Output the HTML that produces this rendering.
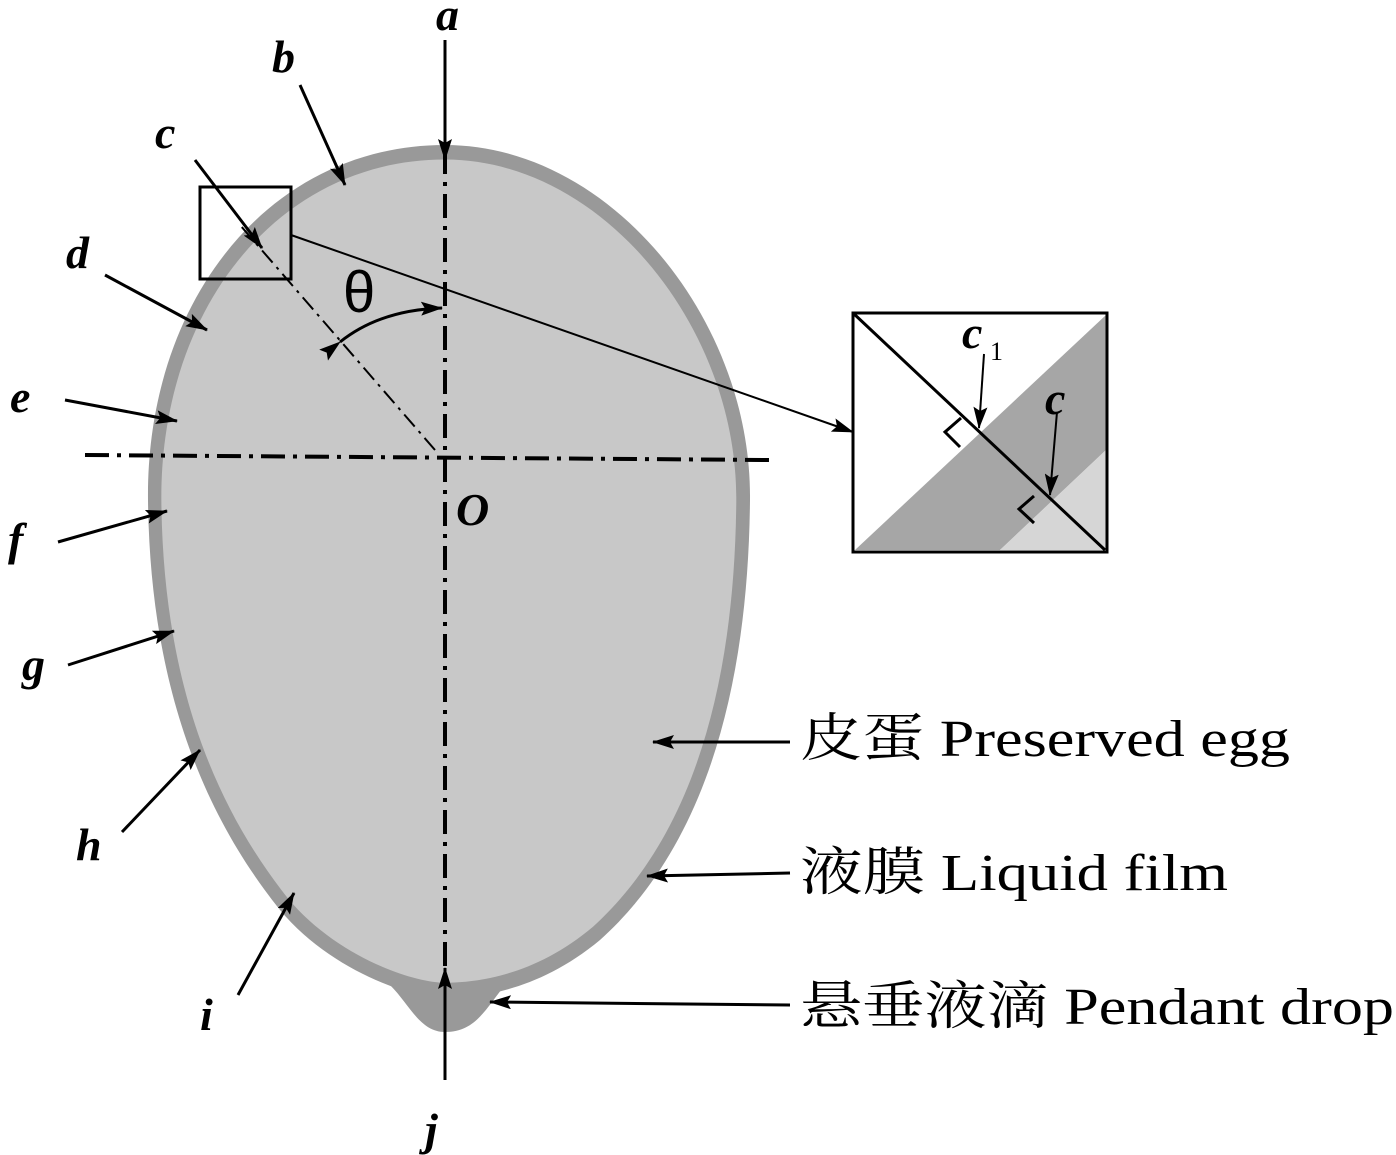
<!DOCTYPE html>
<html><head><style>body{margin:0;background:#fff}svg{display:block}</style></head><body>
<svg width="1396" height="1155" viewBox="0 0 1396 1155" xmlns="http://www.w3.org/2000/svg">
<defs>
<marker id="ab" markerWidth="22" markerHeight="14" refX="21" refY="7" orient="auto" markerUnits="userSpaceOnUse"><path d="M0,0L22,7L0,14L4,7Z" fill="#000"/></marker>
<path id="egg" d="M445,145 C610,145 752,320 750,500 C748,700 700,850 600,940 C540,990 480,998 445,998 C410,998 330,970 280,910 C200,810 150,680 148,500 C146,300 270,145 445,145 Z"/>
</defs>
<use href="#egg" fill="#999"/>
<path d="M390,985 C410,1005 420,1032 445,1032 C475,1032 485,1010 505,985 Z" fill="#999"/>
<use href="#egg" fill="#c8c8c8" transform="translate(445,560) scale(0.955,0.965) translate(-445,-560)"/>
<g stroke="#000" stroke-width="4" fill="none" stroke-dasharray="24,8,4,8">
<line x1="85" y1="455" x2="770" y2="460"/>
<line x1="445" y1="150" x2="445" y2="975"/>
</g>
<line x1="435" y1="450" x2="240" y2="225" stroke="#000" stroke-width="2" stroke-dasharray="16,6,3,6"/>
<rect x="200" y="187" width="91" height="92" fill="none" stroke="#000" stroke-width="3"/>
<line x1="291" y1="235" x2="853" y2="432" stroke="#000" stroke-width="2" marker-end="url(#ab)"/>
<path d="M340,342 Q380,310 442,308" stroke="#000" stroke-width="3" fill="none" marker-start="url(#ab)" marker-end="url(#ab)"/>
<g stroke="#000" stroke-width="3" fill="none" marker-end="url(#ab)">
<line x1="445" y1="40" x2="445" y2="160"/>
<line x1="300" y1="85" x2="345" y2="185"/>
<line x1="195" y1="160" x2="262" y2="248"/>
<line x1="105" y1="275" x2="207" y2="330"/>
<line x1="65" y1="400" x2="177" y2="421"/>
<line x1="58" y1="542" x2="167" y2="511"/>
<line x1="68" y1="665" x2="174" y2="631"/>
<line x1="122" y1="832" x2="200" y2="750"/>
<line x1="238" y1="995" x2="294" y2="893"/>
<line x1="445" y1="1080" x2="445" y2="968"/>
<line x1="790" y1="742" x2="653" y2="742"/>
<line x1="790" y1="873" x2="647" y2="876"/>
<line x1="790" y1="1005" x2="490" y2="1002"/>
</g>
<polygon points="855,550 1106,315 1106,450 1000,550" fill="#a6a6a6"/>
<polygon points="1000,550 1106,450 1106,550" fill="#d6d6d6"/>
<rect x="853" y="313" width="254" height="239" fill="none" stroke="#000" stroke-width="3"/>
<line x1="853" y1="313" x2="1105" y2="550" stroke="#000" stroke-width="3"/>
<path d="M961,418 L945,432 L960,447" stroke="#000" stroke-width="3" fill="none"/>
<path d="M1034,496 L1019,509 L1034,523" stroke="#000" stroke-width="3" fill="none"/>
<g stroke="#000" stroke-width="2" marker-end="url(#ab)"><line x1="984" y1="354" x2="979" y2="428"/><line x1="1057" y1="412" x2="1050" y2="495"/></g>
<g font-family="Liberation Serif,serif" font-style="italic" font-weight="bold" font-size="46" fill="#000">
<text x="436" y="30">a</text><text x="272" y="72">b</text><text x="155" y="148">c</text>
<text x="66" y="268">d</text><text x="10" y="412">e</text><text x="8" y="555">f</text>
<text x="22" y="680">g</text><text x="76" y="860">h</text><text x="200" y="1030">i</text>
<text x="425" y="1145">j</text><text x="456" y="525">O</text>
<text x="962" y="348">c</text><text x="1045" y="414">c</text>
</g>
<text x="990" y="360" font-family="Liberation Serif,serif" font-size="26">1</text>
<text x="343" y="312" font-family="Liberation Sans,sans-serif" font-size="58">θ</text>
<g font-family="Liberation Serif,'Noto Serif CJK SC',serif" font-size="52" fill="#000" lengthAdjust="spacingAndGlyphs">
<text x="800" y="756" textLength="490" lengthAdjust="spacingAndGlyphs">皮蛋 Preserved egg</text>
<text x="800" y="890" textLength="428" lengthAdjust="spacingAndGlyphs">液膜 Liquid film</text>
<text x="800" y="1024" textLength="594" lengthAdjust="spacingAndGlyphs">悬垂液滴 Pendant drop</text>
</g>
</svg>
</body></html>
